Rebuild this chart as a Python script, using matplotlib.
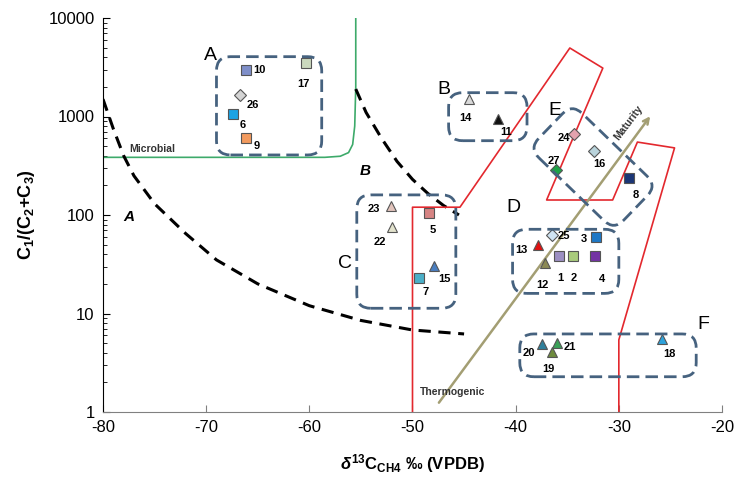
import numpy as np
import matplotlib
matplotlib.use("Agg")
import matplotlib.pyplot as plt
from matplotlib.patches import FancyBboxPatch
from matplotlib.transforms import IdentityTransform, Affine2D
from matplotlib.ticker import LogLocator, NullFormatter

plt.rcParams['font.family'] = ['Liberation Sans', 'DejaVu Sans']
plt.rcParams['axes.unicode_minus'] = False
plt.rcParams['mathtext.fontset'] = 'custom'
plt.rcParams['mathtext.rm'] = 'Liberation Sans:bold'
plt.rcParams['mathtext.it'] = 'Liberation Sans:italic:bold'
plt.rcParams['mathtext.bf'] = 'Liberation Sans:bold'

# ---- sample data: id, d13C CH4, C1/(C2+C3), marker, colour, label offset (px) ----
ids = ['10', '17', '26', '6', '9', '14', '11', '24', '27', '16', '8',
       '23', '22', '5', '15', '7', '13', '25', '3', '1', '2', '4', '12',
       '20', '21', '19', '18']
d13c = [-66.1, -60.3, -66.7, -67.4, -66.1, -44.5, -41.7, -34.3, -36.1, -32.4, -29.0,
        -52.1, -52.0, -48.4, -47.9, -49.4, -37.8, -36.5, -32.2, -35.8, -34.4, -32.3, -37.2,
        -37.4, -36.0, -36.5, -25.8]
ratio = [3000, 3500, 1660, 1050, 605, 1500, 940, 660, 286, 450, 236,
         123, 76, 106, 30.6, 22.9, 49.6, 62.7, 60.2, 38.4, 38.4, 38.4, 32.8,
         4.9, 5.0, 4.1, 5.5]
markers = ['s', 's', 'D', 's', 's', '^', '^', 'D', 'D', 'D', 's',
           '^', '^', 's', '^', 's', '^', 'D', 's', 's', 's', 's', '^',
           '^', '^', '^', '^']
colors = ['#7F8FC9', '#CBD9BE', '#D4D4D4', '#1CA3E3', '#F29A5E', '#D9D9D9', '#111111',
          '#E3A3AE', '#1FA348', '#B9D3DB', '#1B3676',
          '#E2C4BC', '#E2E2CC', '#D68483', '#4A7EC0', '#4BAFC8', '#E01010', '#CFE3F2',
          '#1E78C6', '#9C8FC3', '#A9CB7C', '#7434A4', '#8C8A55',
          '#2F7F9B', '#3AA057', '#6E8B3D', '#2DA2DB']
label_dx = [13, -3, 13, 10, 10, -4, 8, -11, -2, 5, 7,
            -17, -12, 4, 10, 7, -17, 12, -12, 1, 0, 7, -2,
            -14, 13, -3, 7]
label_dy = [0, 21, 10, 11, 8, 19, 13, 4, -9, 13, 17,
            3, 15, 17, 13, 14, 5, 1, 2, 22, 22, 23, 22,
            9, 4, 17, 15]

# ---- field boundaries ----
microbial_x = [-80, -58.5, -57, -56.2, -55.8, -55.6, -55.5, -55.5]
microbial_y = [385, 385, 395, 430, 520, 800, 2000, 10000]
curve_a_x = [-80, -79, -78, -77, -75, -72, -69, -65, -60, -55, -50, -45]
curve_a_y = [1500, 750, 400, 250, 130, 65, 35, 20, 12, 8.5, 6.8, 6.2]
curve_b_x = [-55.5, -54.5, -53, -51.5, -50, -48.5, -47, -45.5]
curve_b_y = [1900, 1100, 600, 350, 230, 165, 125, 100]
thermo_x = [-50, -50, -45.4, -34.75, -31.55, -37.0, -30.6, -28.2, -24.6, -30.0, -30.0]
thermo_y = [1, 120, 120, 4960, 3100, 142, 142, 550, 480, 5.4, 1]

# ---- group boxes (x range, y range) ----
boxes = {
    'A': ([-69, -58.8], [407, 4050]),
    'B': ([-46.5, -38.9], [568, 1745]),
    'C': ([-55.4, -45.8], [11.3, 160]),
    'D': ([-40.3, -30.0], [16, 71.6]),
    'F': ([-39.6, -22.5], [2.28, 6.2]),
}
box_labels = {'A': (-69.6, 4200), 'B': (-47.0, 1890), 'C': (-56.5, 32),
              'D': (-40.2, 120), 'E': (-36.2, 1160), 'F': (-21.8, 7.8)}

box_color = '#46627F'

fig = plt.figure(figsize=(7.37, 4.84), dpi=100)
ax = fig.add_axes([103 / 737, 72 / 484, 619 / 737, 394 / 484])
ax.set_yscale('log')
ax.set_xlim(-80, -20)
ax.set_ylim(1, 10000)

ax.plot(microbial_x, microbial_y, color='#3DAA6A', lw=1.2)
ax.plot(curve_a_x, curve_a_y, color='black', lw=2.2, ls=(0, (4, 2.5)))
ax.plot(curve_b_x, curve_b_y, color='black', lw=2.2, ls=(0, (4, 2.5)))
ax.plot(thermo_x, thermo_y, color='#E3282E', lw=1.2)

ax.annotate('', xy=(-26.8, 1060), xytext=(-47.6, 1.18),
            arrowprops=dict(arrowstyle='->', color='#A39E73', lw=1.8))
ax.text(-29.1, 860, 'Maturity', rotation=53, fontsize=7.5, fontweight='bold',
        color='#333333', ha='center', va='center')
ax.text(-49.3, 1.6, 'Thermogenic', fontsize=7.5, fontweight='bold', color='#333333',
        ha='left', va='center')
ax.text(-77.5, 470, 'Microbial', fontsize=7.5, fontweight='bold', color='#333333',
        ha='left', va='center')
ax.text(-77.5, 95, 'A', fontsize=11, fontweight='bold', style='italic', ha='center', va='center')
ax.text(-54.6, 280, 'B', fontsize=11, fontweight='bold', style='italic', ha='center', va='center')

for i in range(len(ids)):
    ms = 7.5 if markers[i] == '^' else (6 if markers[i] == 'D' else 7)
    ax.plot(d13c[i], ratio[i], marker=markers[i], ms=ms, color=colors[i],
            mec='#555555', mew=0.8, ls='none', zorder=5)
    ax.annotate(ids[i], (d13c[i], ratio[i]), xytext=(label_dx[i] * 0.72, -label_dy[i] * 0.72),
                textcoords='offset points', ha='center', va='center',
                fontsize=8, fontweight='bold', zorder=6)

fig.canvas.draw()
for name, (bx, by) in boxes.items():
    (x0, y0), (x1, y1) = ax.transData.transform([(bx[0], by[0]), (bx[1], by[1])])
    p = FancyBboxPatch((x0, y0), x1 - x0, y1 - y0, boxstyle='round,pad=0,rounding_size=14',
                       fill=False, ec=box_color, lw=2, ls=(0, (4.5, 2.2)),
                       transform=IdentityTransform(), zorder=4)
    fig.add_artist(p)

# rotated box E
cx, cy = ax.transData.transform((-32.5, 307))
w, h = 118, 62
p = FancyBboxPatch((cx - w / 2, cy - h / 2), w, h, boxstyle='round,pad=0,rounding_size=14',
                   fill=False, ec=box_color, lw=2, ls=(0, (4.5, 2.2)),
                   transform=Affine2D().rotate_deg_around(cx, cy, -44), zorder=4)
fig.add_artist(p)

for name, (lx, ly) in box_labels.items():
    ax.text(lx, ly, name, fontsize=14, ha='center', va='center')

ax.spines['top'].set_visible(False)
ax.spines['right'].set_visible(False)
ax.spines['bottom'].set_color('#808080')
ax.set_xticks([-80, -70, -60, -50, -40, -30, -20])
ax.set_yticks([1, 10, 100, 1000, 10000])
ax.set_yticklabels(['1', '10', '100', '1000', '10000'])
ax.yaxis.set_minor_locator(LogLocator(base=10, subs=np.arange(2, 10)))
ax.yaxis.set_minor_formatter(NullFormatter())
ax.tick_params(axis='both', which='major', direction='in', length=5, labelsize=12, pad=6)
ax.tick_params(axis='y', which='minor', direction='in', length=3)
ax.tick_params(axis='x', colors='#808080', labelcolor='black')

ax.set_ylabel(r'$\mathrm{C_1/(C_2{+}C_3)}$', fontsize=13, labelpad=8)
ax.set_xlabel(r'$\mathit{\delta}^{\mathrm{13}}\mathrm{C}$$_{\mathrm{CH4}}$ ‰ (VPDB)',
              fontsize=12, fontweight='bold', labelpad=12)

fig.savefig('out.png', dpi=100)
